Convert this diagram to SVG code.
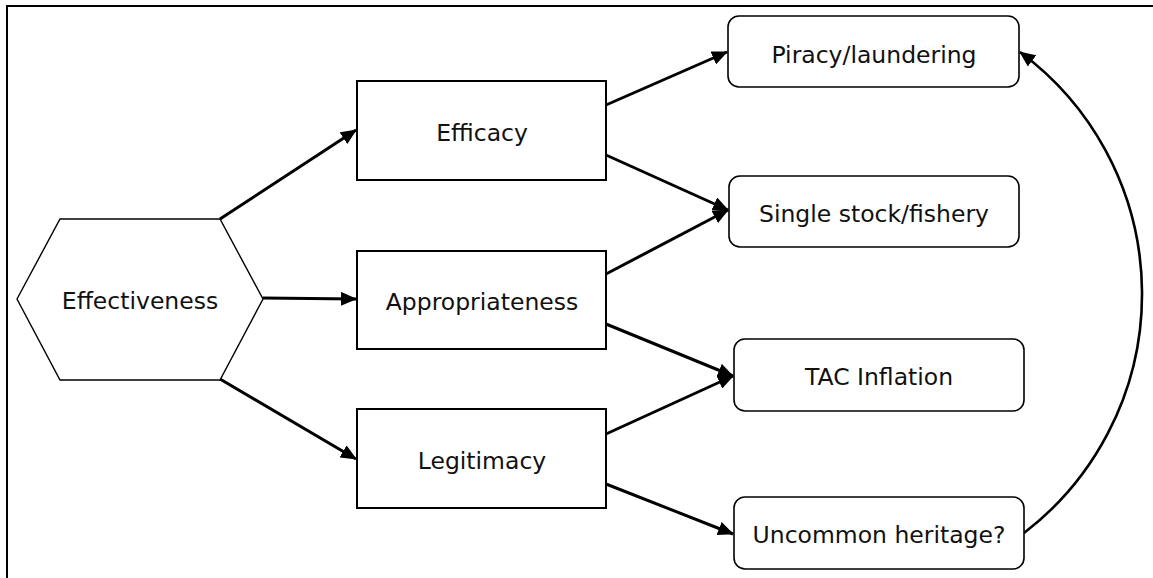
<svg xmlns="http://www.w3.org/2000/svg" width="1153" height="578" viewBox="0 0 1153 578">
<style>
  .lbl { font-family: "DejaVu Sans", Verdana, sans-serif; font-size: 23.5px; fill: #111; text-anchor: middle; }
  .box { fill: #fff; stroke: #000; stroke-width: 2; }
  .rbox { fill: #fff; stroke: #000; stroke-width: 1.6; }
  .hex { fill: #fff; stroke: #000; stroke-width: 1.4; }
  .conn { fill: none; stroke: #000; stroke-width: 3; marker-end: url(#ah); }
  .frame { fill: none; stroke: #000; stroke-width: 2; }
</style>
<defs>
  <marker id="ah" markerUnits="userSpaceOnUse" markerWidth="16" markerHeight="14" viewBox="0 0 16 14" refX="15" refY="7" orient="auto">
    <path d="M0,0 L16,7 L0,14 z" fill="#000"/>
  </marker>
</defs>
<rect width="1153" height="578" fill="#fff"/>
<path class="frame" d="M7,580 L7,6 L1155,6"/>

<g id="connectors">
  <line class="conn" x1="220" y1="219" x2="356" y2="130"/>
  <line class="conn" x1="263" y1="298" x2="356" y2="299"/>
  <line class="conn" x1="220" y1="379" x2="356" y2="459"/>
  <line class="conn" x1="606" y1="105" x2="727" y2="52"/>
  <line class="conn" x1="606" y1="155" x2="728" y2="210"/>
  <line class="conn" x1="606" y1="274" x2="728" y2="210"/>
  <line class="conn" x1="606" y1="324" x2="733" y2="376"/>
  <line class="conn" x1="606" y1="434" x2="733" y2="376"/>
  <line class="conn" x1="606" y1="484" x2="733" y2="534"/>
  <path class="conn" style="stroke-width:2.6" d="M1024,533 A301,301 0 0 0 1020,52"/>
</g>

<g id="effectiveness">
  <polygon class="hex" points="17,299 60,219 220,219 263,299 220,380 60,380"/>
  <text class="lbl" x="140" y="309">Effectiveness</text>
</g>
<g id="efficacy">
  <rect class="box" x="357" y="81" width="249" height="99"/>
  <text class="lbl" x="482" y="141">Efficacy</text>
</g>
<g id="appropriateness">
  <rect class="box" x="357" y="251" width="249" height="98"/>
  <text class="lbl" x="482" y="310">Appropriateness</text>
</g>
<g id="legitimacy">
  <rect class="box" x="357" y="409" width="249" height="99"/>
  <text class="lbl" x="482" y="469">Legitimacy</text>
</g>
<g id="piracy">
  <rect class="rbox" x="728" y="16" width="291" height="71" rx="11"/>
  <text class="lbl" x="874" y="63">Piracy/laundering</text>
</g>
<g id="single-stock">
  <rect class="rbox" x="729" y="176" width="290" height="71" rx="11"/>
  <text class="lbl" x="874" y="222">Single stock/fishery</text>
</g>
<g id="tac-inflation">
  <rect class="rbox" x="734" y="339" width="290" height="72" rx="11"/>
  <text class="lbl" x="879" y="385">TAC Inflation</text>
</g>
<g id="uncommon-heritage">
  <rect class="rbox" x="734" y="497" width="290" height="72" rx="11"/>
  <text class="lbl" x="879" y="543">Uncommon heritage?</text>
</g>
</svg>
